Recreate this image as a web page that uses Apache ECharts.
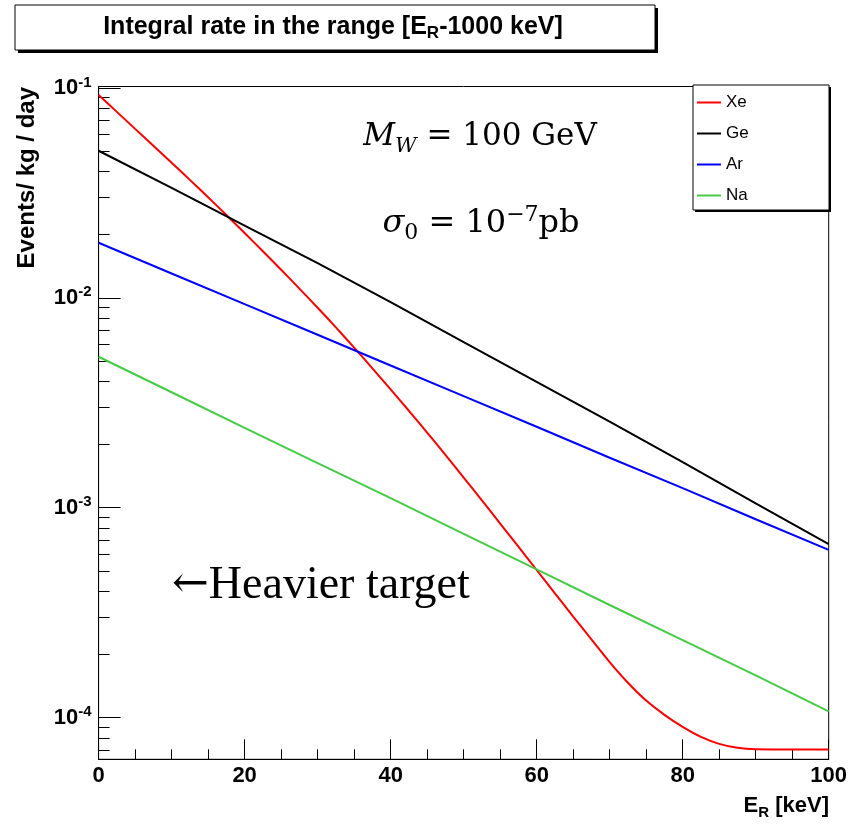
<!DOCTYPE html>
<html>
<head>
<meta charset="utf-8">
<script src="https://cdn.jsdelivr.net/npm/echarts@6/dist/echarts.min.js"></script>
<style>
  html, body { margin: 0; padding: 0; background: #fff; }
  #chart { width: 848px; height: 828px; }
</style>
</head>
<body>
<div id="chart"></div>
<script>
// Recoil energy grid (keV) for the near-exponential targets
const energy10 = [0, 10, 20, 30, 40, 50, 60, 70, 80, 90, 100];
// Integral rates (events / kg / day)
const geRate = [0.0502, 0.0334, 0.0221, 0.01462, 0.00955, 0.00615, 0.00398, 0.00257, 0.00165, 0.00105, 0.00067];
const arRate = [0.0183, 0.01306, 0.00933, 0.00667, 0.00476, 0.00340, 0.00243, 0.00173, 0.00124, 0.000881, 0.000630];
const naRate = [0.00524, 0.00355, 0.00240, 0.00163, 0.00111, 0.00075, 0.000508, 0.000344, 0.000234, 0.000159, 0.000107];

// Xenon on a finer grid because of the form-factor roll-off
const energyXe = [0, 2.5, 5, 7.5, 10, 12.5, 15, 17.5, 20, 22.5, 25, 27.5, 30, 32.5, 35, 37.5, 40,
                  42.5, 45, 47.5, 50, 52.5, 55, 57.5, 60, 62.5, 65, 67.5, 70, 72.5, 75, 77.5, 80,
                  82.5, 85, 87.5, 90, 92.5, 95, 97.5, 100];
const xeRate = [0.09247, 0.07691, 0.06383, 0.05309, 0.04406, 0.03648, 0.03013, 0.02483, 0.02037,
                0.01667, 0.01361, 0.01107, 0.008974, 0.007228, 0.005794, 0.004613, 0.003664,
                0.002897, 0.002280, 0.001786, 0.001393, 0.001084, 0.000841, 0.000652, 0.000505,
                0.000391, 0.000303, 0.000236, 0.000184, 0.0001466, 0.0001205, 0.0001031, 0.0000904,
                0.0000810, 0.0000750, 0.0000718, 0.0000706, 0.0000705, 0.0000705, 0.0000705, 0.0000705];

const seriesNames = ['Xe', 'Ge', 'Ar', 'Na'];
const seriesColors = ['#ff0000', '#000000', '#0000ff', '#44cc44'];

// Axis tick values
const xTickStep = 20;
const yMajorTicks = [1e-4, 1e-3, 1e-2, 1e-1];
const yMinorTicks = [7e-5, 8e-5, 9e-5,
  2e-4, 3e-4, 4e-4, 5e-4, 6e-4, 7e-4, 8e-4, 9e-4,
  2e-3, 3e-3, 4e-3, 5e-3, 6e-3, 7e-3, 8e-3, 9e-3,
  2e-2, 3e-2, 4e-2, 5e-2, 6e-2, 7e-2, 8e-2, 9e-2];
const yMin = 6.33e-5;
const yMax = 0.1016;

const pairs = (xs, ys) => xs.map((x, i) => [x, ys[i]]);
const seriesData = [pairs(energyXe, xeRate), pairs(energy10, geRate), pairs(energy10, arRate), pairs(energy10, naRate)];

const SANS = '"Liberation Sans", Arial, sans-serif';
const SERIF = '"DejaVu Serif", serif';

const chart = echarts.init(document.getElementById('chart'), null, { renderer: 'canvas' });

const option = {
  backgroundColor: '#ffffff',
  animation: false,
  grid: {
    left: 98.6, right: 19.3, top: 86.5, bottom: 68.7,
    show: true, borderColor: '#000', borderWidth: 1, backgroundColor: 'transparent',
    containLabel: false, outerBoundsMode: 'none'
  },
  legend: {
    data: seriesNames.map(name => ({ name, icon: 'rect' })),
    orient: 'vertical',
    left: 697, top: 94,
    itemWidth: 24, itemHeight: 2, itemGap: 14,
    padding: 0,
    textStyle: { fontFamily: SANS, fontSize: 17, color: '#000', lineHeight: 17 },
    z: 10
  },
  xAxis: {
    type: 'value', min: 0, max: 100, interval: xTickStep,
    axisLine: { lineStyle: { color: '#000', width: 1 } },
    axisTick: { inside: true, length: 20, lineStyle: { color: '#000', width: 1 } },
    minorTick: { show: true, splitNumber: 4, length: 10, lineStyle: { color: '#000', width: 1 } },
    splitLine: { show: false }, minorSplitLine: { show: false },
    axisLabel: { fontFamily: SANS, fontWeight: 'bold', fontSize: 22, color: '#000', margin: 6 }
  },
  yAxis: [
    {
      type: 'log', logBase: 10, min: yMin, max: yMax,
      axisLine: { show: true, lineStyle: { color: '#000', width: 1 } },
      axisTick: { show: true, inside: true, length: 22, customValues: yMajorTicks, lineStyle: { color: '#000' } },
      minorTick: { show: false },
      splitLine: { show: false },
      axisLabel: {
        customValues: yMajorTicks,
        margin: 7,
        formatter: v => '{b|10}{s|' + Math.round(Math.log10(v)) + '}',
        rich: {
          b: { fontFamily: SANS, fontWeight: 'bold', fontSize: 22, lineHeight: 26, color: '#000' },
          s: { fontFamily: SANS, fontWeight: 'bold', fontSize: 15, lineHeight: 14, verticalAlign: 'top', color: '#000' }
        }
      }
    },
    {
      type: 'log', logBase: 10, min: yMin, max: yMax, position: 'left',
      axisLine: { show: false },
      axisTick: { show: true, inside: true, length: 11, customValues: yMinorTicks, lineStyle: { color: '#000' } },
      minorTick: { show: false },
      splitLine: { show: false },
      axisLabel: { show: false }
    }
  ],
  series: seriesNames.map((name, i) => ({
    name, type: 'line', data: seriesData[i],
    yAxisIndex: 0,
    symbol: 'none', showSymbol: false,
    smooth: name === 'Xe' ? 0.3 : false,
    lineStyle: { color: seriesColors[i], width: 2 },
    itemStyle: { color: seriesColors[i] },
    clip: true, z: 3
  })),
  graphic: [
    // title pave with shadow
    { type: 'rect', z: 5, shape: { x: 18, y: 8, width: 640, height: 45 }, style: { fill: '#000' } },
    { type: 'rect', z: 5, shape: { x: 15, y: 5, width: 640, height: 45 }, style: { fill: '#fff', stroke: '#000', lineWidth: 1 } },
    { type: 'text', z: 6, x: 333, y: 27,
      style: {
        text: '{n|Integral rate in the range [E}{s|R}{n|-1000 keV]}',
        align: 'center', verticalAlign: 'middle',
        rich: {
          n: { fontFamily: SANS, fontWeight: 'bold', fontSize: 25, lineHeight: 30, fill: '#000' },
          s: { fontFamily: SANS, fontWeight: 'bold', fontSize: 17, lineHeight: 17, verticalAlign: 'bottom', fill: '#000' }
        }
      }
    },
    // legend pave with shadow
    { type: 'rect', z: 5, shape: { x: 695, y: 87, width: 136, height: 125 }, style: { fill: '#000' } },
    { type: 'rect', z: 5, shape: { x: 693, y: 85, width: 136, height: 125 }, style: { fill: '#fff', stroke: '#000', lineWidth: 1 } },
    // y axis title
    { type: 'text', z: 6, x: 27, y: 87, rotation: Math.PI / 2,
      style: { text: 'Events/ kg / day', fontFamily: SANS, fontWeight: 'bold', fontSize: 24, fill: '#000', align: 'right', verticalAlign: 'middle' } },
    // x axis title
    { type: 'text', z: 6, x: 829, y: 806,
      style: {
        text: '{n|E}{s|R}{n| [keV]}', align: 'right', verticalAlign: 'middle',
        rich: {
          n: { fontFamily: SANS, fontWeight: 'bold', fontSize: 22, lineHeight: 28, fill: '#000' },
          s: { fontFamily: SANS, fontWeight: 'bold', fontSize: 15, lineHeight: 14, verticalAlign: 'bottom', fill: '#000' }
        }
      }
    },
    // WIMP mass
    { type: 'text', z: 6, x: 480, y: 137,
      style: {
        text: '{i|M}{is|W}{r| = 100 GeV}', align: 'center', verticalAlign: 'middle',
        rich: {
          i: { fontFamily: SERIF, fontStyle: 'italic', fontSize: 31, lineHeight: 40, fill: '#000' },
          is: { fontFamily: SERIF, fontStyle: 'italic', fontSize: 21, lineHeight: 21, verticalAlign: 'bottom', fill: '#000' },
          r: { fontFamily: SERIF, fontSize: 31, lineHeight: 40, fill: '#000' }
        }
      }
    },
    // cross section
    { type: 'text', z: 6, x: 481, y: 224,
      style: {
        text: '{i|σ}{s|0}{r| = 10}{p|−7}{r|pb}', align: 'center', verticalAlign: 'middle',
        rich: {
          i: { fontFamily: SERIF, fontStyle: 'italic', fontSize: 32, lineHeight: 40, fill: '#000' },
          s: { fontFamily: SERIF, fontSize: 22, lineHeight: 21, verticalAlign: 'bottom', fill: '#000' },
          p: { fontFamily: SERIF, fontSize: 22, lineHeight: 21, verticalAlign: 'top', fill: '#000' },
          r: { fontFamily: SERIF, fontSize: 32, lineHeight: 40, fill: '#000' }
        }
      }
    },
    // annotation
    { type: 'text', z: 6, x: 172, y: 586,
      style: {
        text: '{a|←}{t|Heavier target}', align: 'left', verticalAlign: 'middle',
        rich: {
          a: { fontFamily: '"DejaVu Serif", serif', fontSize: 44, lineHeight: 50, fill: '#000' },
          t: { fontFamily: '"Liberation Serif", "Times New Roman", serif', fontSize: 46, lineHeight: 50, fill: '#000' }
        }
      }
    }
  ]
};

chart.setOption(option);
</script>
</body>
</html>
